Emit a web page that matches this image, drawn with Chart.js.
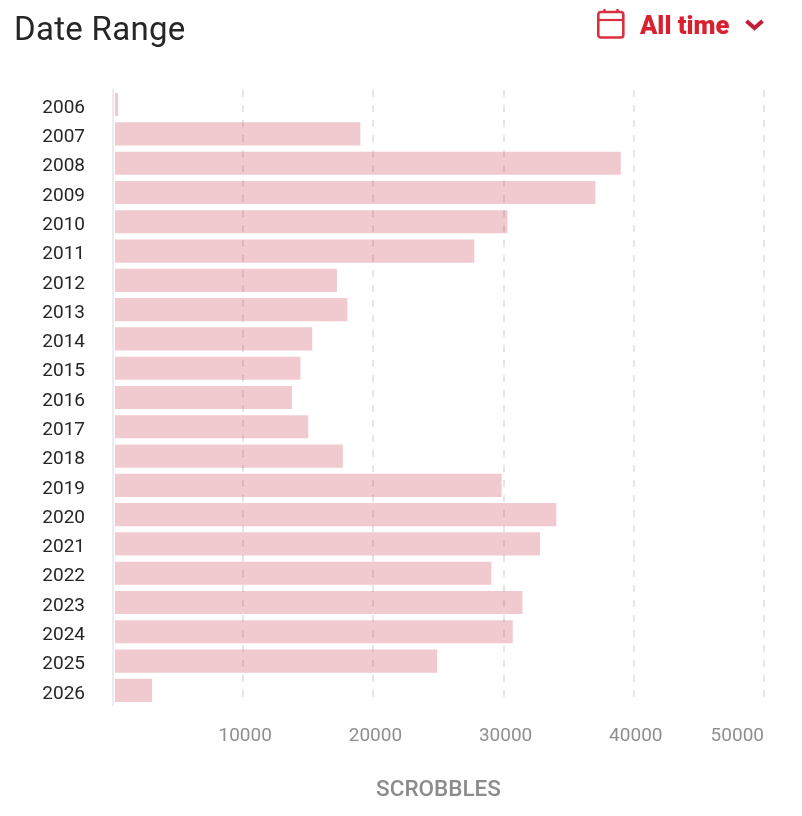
<!DOCTYPE html>
<html>
<head>
<meta charset="utf-8">
<style>
html,body{margin:0;padding:0;background:#fff;overflow:hidden}
#wrap{position:relative;width:802px;height:816px}
#wrap canvas{position:absolute;left:0;top:0}
#title{position:absolute;left:14px;top:9px;font:400 33px Roboto,sans-serif;letter-spacing:.3px;color:#262626;line-height:40px;white-space:nowrap}
#range{position:absolute;left:640px;top:8px;font:900 25.5px Roboto,sans-serif;color:#d9202f;line-height:34px;white-space:nowrap}
svg{position:absolute;overflow:visible}
</style>
</head>
<body>
<div id="wrap">
  <canvas id="c" width="802" height="816"></canvas>
  <div id="title">Date Range</div>
  <svg style="left:597px;top:8px" width="28" height="31" viewBox="0 0 28 31">
    <rect x="1.3" y="4" width="25" height="25.5" rx="2.5" fill="none" stroke="#d9303f" stroke-width="2.6"/>
    <line x1="1" y1="12" x2="27" y2="12" stroke="#d9303f" stroke-width="2.2"/>
    <line x1="7.5" y1="1" x2="7.5" y2="5" stroke="#d9303f" stroke-width="2.4"/>
    <line x1="20.5" y1="1" x2="20.5" y2="5" stroke="#d9303f" stroke-width="2.4"/>
  </svg>
  <div id="range">All time</div>
  <svg style="left:745px;top:19px" width="19" height="12" viewBox="0 0 19 12">
    <polyline points="1.5,2 9.5,9 17.5,2" fill="none" stroke="#bf2038" stroke-width="4"/>
  </svg>
</div>
<script src="https://cdn.jsdelivr.net/npm/chart.js@4"></script>
<script>
const years = ['2006','2007','2008','2009','2010','2011','2012','2013','2014','2015','2016','2017','2018','2019','2020','2021','2022','2023','2024','2025','2026'];
const scrobbles = [400,19000,39000,37050,30300,27750,17200,18000,15300,14400,13750,15000,17650,29850,34050,32800,29050,31450,30700,24900,3000];
const xTicks = [10000,20000,30000,40000,50000];
const axisTitle = 'SCROBBLES';

const labelTweak = {
  id:'labelTweak',
  beforeDraw(chart){
    const xs = chart.scales.x, ys = chart.scales.y;
    if(!chart.$tweaked){
      chart.$tweaked = true;
      xs.getLabelItems().forEach(it=>{
        const o = it.options;
        if(it.label === '50000'){ o.textAlign='right'; }
        else { o.translation=[o.translation[0]+2,o.translation[1]]; }
      });
      ys.getLabelItems().forEach(it=>{
        const o = it.options;
        o.translation=[o.translation[0],o.translation[1]+3.5];
      });
    }
  }
};

new Chart(document.getElementById('c'),{
  type:'bar',
  plugins:[labelTweak],
  data:{labels:years,datasets:[{
    data:scrobbles,
    base:150,
    backgroundColor:'rgba(195,45,65,0.25)',
    borderWidth:0,
    barPercentage:0.79,
    categoryPercentage:1
  }]},
  options:{
    indexAxis:'y',
    responsive:false,
    animation:false,
    devicePixelRatio:1,
    layout:{padding:{left:0,right:38,top:90,bottom:0}},
    plugins:{legend:{display:false},tooltip:{enabled:false},title:{display:false}},
    scales:{
      x:{
        type:'linear',
        min:0,max:50000,
        afterFit(s){s.height=111;s.paddingLeft=0;s.paddingRight=0;},
        afterBuildTicks(s){s.ticks=xTicks.map(v=>({value:v}));},
        grid:{drawTicks:false,color:'#e6e6e6',lineWidth:2},
        border:{display:false,dash:[7,8]},
        ticks:{
          autoSkip:false,maxRotation:0,padding:20,
          color:'#8f8f8f',
          font:{family:'Roboto',size:19},
          callback:v=>String(v)
        },
        title:{display:true,text:axisTitle,color:'#8c8c8c',
          font:{family:'Roboto',size:22.5,weight:'500'},
          padding:{top:0,bottom:12}}
      },
      y:{
        afterFit(s){s.width=113;},
        grid:{display:false},
        border:{display:true,color:'#ececec',width:2},
        ticks:{
          autoSkip:false,padding:20,
          color:'#262626',
          font:{family:'Roboto',size:19}
        }
      }
    }
  }
});
</script>
</body>
</html>
